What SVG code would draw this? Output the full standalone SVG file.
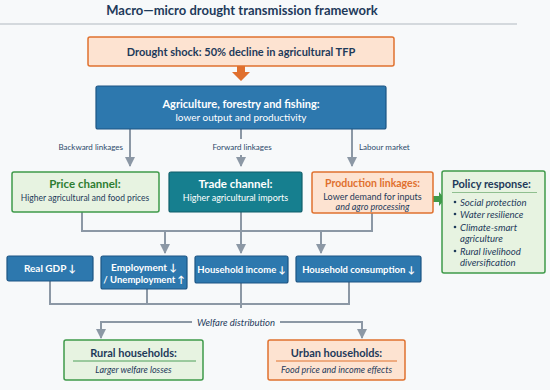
<svg xmlns="http://www.w3.org/2000/svg" width="550" height="390" viewBox="0 0 550 390">
<defs>
<style>
text{font-family:Lato,"Open Sans","Noto Sans",sans-serif;}
.title{font-size:13px;font-weight:bold;fill:#1e3a5a;text-anchor:middle;}
.navyb{font-weight:bold;fill:#1e3a5a;text-anchor:middle;}
.white{fill:#ffffff;text-anchor:middle;}
.wb{fill:#ffffff;font-weight:bold;text-anchor:middle;}
.lbl{font-size:8px;fill:#2c4a6b;}
.it{font-style:italic;fill:#1e3a5a;}
.conn{stroke:#8c98a5;stroke-width:2;fill:none;}
.orange{fill:#fde3d1;stroke:#e0722f;stroke-width:1.5;}
.blue{fill:#2d78ae;stroke:#1c5584;stroke-width:1.2;}
.teal{fill:#167f8f;stroke:#0f5f6b;stroke-width:1.2;}
.green{fill:#e7f3e1;stroke:#3f9a4a;stroke-width:1.5;}
</style>
<marker id="ah" viewBox="0 0 10 10" refX="9" refY="5" markerWidth="5" markerHeight="5" orient="auto" markerUnits="strokeWidth">
<path d="M0,0 L10,5 L0,10 Z" fill="#8c98a5"/>
</marker>
</defs>
<rect x="0" y="0" width="550" height="390" fill="#f7f9fa"/>
<text class="title" x="242" y="15">Macro—micro drought transmission framework</text>
<line x1="0" y1="24" x2="517" y2="24" stroke="#c9ced3" stroke-width="1.5"/>

<g id="connectors">
<path d="M237,66 L245,66 L245,72 L250,72 L241,81 L232,72 L237,72 Z" fill="#e0702e"/>
<line class="conn" x1="130" y1="129" x2="130" y2="166" marker-end="url(#ah)"/>
<line class="conn" x1="241" y1="129" x2="241" y2="139"/>
<line class="conn" x1="241" y1="155" x2="241" y2="166" marker-end="url(#ah)"/>
<line class="conn" x1="352" y1="129" x2="352" y2="166" marker-end="url(#ah)"/>
<text class="lbl" x="123" y="150" text-anchor="end">Backward linkages</text>
<text class="lbl" x="242" y="150" text-anchor="middle">Forward linkages</text>
<text class="lbl" x="359" y="150">Labour market</text>
<path d="M433,196 L439,196 L439,192 L445,199 L439,206 L439,202 L433,202 Z" fill="#3f9a4a"/>
<path class="conn" d="M82,212 V231 H372 V213"/>
<line class="conn" x1="241" y1="212" x2="241" y2="253" marker-end="url(#ah)"/>
<line class="conn" x1="165" y1="231" x2="165" y2="253" marker-end="url(#ah)"/>
<line class="conn" x1="321" y1="231" x2="321" y2="253" marker-end="url(#ah)"/>
<path class="conn" d="M50,281 V304 H349 V282"/>
<line class="conn" x1="147" y1="289" x2="147" y2="304"/>
<line class="conn" x1="241" y1="283" x2="241" y2="308"/>
<text class="it" x="236" y="325.5" font-size="9.5" text-anchor="middle">Welfare distribution</text>
<path class="conn" d="M192,322 H101 V338" marker-end="url(#ah)"/>
<path class="conn" d="M280,322 H362 V338" marker-end="url(#ah)"/>
</g>

<g id="drought">
<rect class="orange" x="88" y="37" width="306" height="29" rx="2"/>
<text class="navyb" x="241" y="56" font-size="11">Drought shock: 50% decline in agricultural TFP</text>
</g>
<g id="agriculture">
<rect class="blue" x="96" y="86" width="290" height="43" rx="2"/>
<text class="wb" x="241" y="108" font-size="11">Agriculture, forestry and fishing:</text>
<text class="white" x="241" y="121" font-size="10">lower output and productivity</text>
</g>
<g id="price">
<rect class="green" x="12" y="172" width="147" height="40" rx="2"/>
<text x="85" y="188" font-size="11.5" font-weight="bold" fill="#2e7d32" text-anchor="middle">Price channel:</text>
<text x="85" y="200.5" font-size="8.5" fill="#1e3a5a" text-anchor="middle">Higher agricultural and food prices</text>
</g>
<g id="trade">
<rect class="teal" x="169" y="172" width="133" height="40" rx="2"/>
<text class="wb" x="235.5" y="188" font-size="11.5">Trade channel:</text>
<text class="white" x="235.5" y="200.5" font-size="9">Higher agricultural imports</text>
</g>
<g id="production">
<rect class="orange" x="312" y="172" width="121" height="41" rx="2"/>
<text x="372.5" y="187" font-size="10.5" font-weight="bold" fill="#e0702e" text-anchor="middle">Production linkages:</text>
<text x="372.5" y="200" font-size="9" fill="#1e3a5a" text-anchor="middle">Lower demand for inputs</text>
<text class="it" x="372.5" y="210" font-size="9" text-anchor="middle">and agro processing</text>
</g>
<g id="policy">
<rect class="green" x="442" y="171" width="103" height="102" rx="2"/>
<text x="452" y="188" font-size="11" font-weight="bold" fill="#1e3a5a">Policy response:</text>
<line x1="452" y1="192.5" x2="537" y2="192.5" stroke="#8fbf8f" stroke-width="1"/>
<g font-size="9.6">
<circle cx="455" cy="202" r="1.3" fill="#1e3a5a"/>
<text class="it" x="460" y="205.5">Social protection</text>
<circle cx="455" cy="214" r="1.3" fill="#1e3a5a"/>
<text class="it" x="460" y="217.5">Water resilience</text>
<circle cx="455" cy="227" r="1.3" fill="#1e3a5a"/>
<text class="it" x="460" y="231">Climate-smart</text>
<text class="it" x="460" y="241.5">agriculture</text>
<circle cx="455" cy="251" r="1.3" fill="#1e3a5a"/>
<text class="it" x="460" y="255">Rural livelihood</text>
<text class="it" x="460" y="265.5">diversification</text>
</g>
</g>
<g id="gdp">
<rect class="blue" x="7" y="256" width="86" height="25" rx="2"/>
<text class="wb" x="50" y="271.5" font-size="10">Real GDP ↓</text>
</g>
<g id="employment">
<rect class="blue" x="101" y="256" width="86" height="33" rx="2"/>
<text class="wb" x="144" y="271" font-size="10">Employment ↓</text>
<text class="wb" x="144" y="283" font-size="9.5">/ Unemployment ↑</text>
</g>
<g id="income">
<rect class="blue" x="195" y="256" width="93" height="27" rx="2"/>
<text class="wb" x="241.5" y="273" font-size="9.5">Household income ↓</text>
</g>
<g id="consumption">
<rect class="blue" x="296" y="256" width="125" height="26" rx="2"/>
<text class="wb" x="358.5" y="272.5" font-size="9.5">Household consumption ↓</text>
</g>
<g id="rural">
<rect class="green" x="64" y="340" width="139" height="40" rx="2"/>
<text class="navyb" x="133.5" y="357" font-size="11">Rural households:</text>
<line x1="73" y1="361" x2="196" y2="361" stroke="#4fa05a" stroke-width="1"/>
<text class="it" x="133.5" y="373" font-size="9" text-anchor="middle">Larger welfare losses</text>
</g>
<g id="urban">
<rect class="orange" x="268" y="340" width="137" height="40" rx="2"/>
<text class="navyb" x="336.5" y="357" font-size="11">Urban households:</text>
<line x1="276" y1="361" x2="397" y2="361" stroke="#e0722f" stroke-width="1"/>
<text class="it" x="336.5" y="373" font-size="9" text-anchor="middle">Food price and income effects</text>
</g>
</svg>
